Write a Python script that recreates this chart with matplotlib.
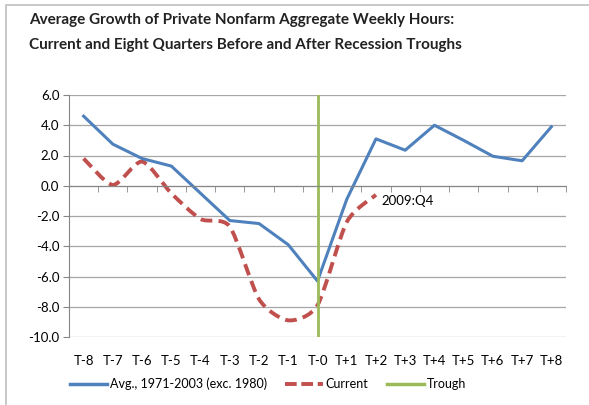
import matplotlib
matplotlib.use('Agg')
import matplotlib.pyplot as plt
from matplotlib.path import Path
from matplotlib.patches import PathPatch, Rectangle
from matplotlib.lines import Line2D
import numpy as np

quarters = ['T-8', 'T-7', 'T-6', 'T-5', 'T-4', 'T-3', 'T-2', 'T-1', 'T-0',
            'T+1', 'T+2', 'T+3', 'T+4', 'T+5', 'T+6', 'T+7', 'T+8']
avg_hours = [4.6, 2.75, 1.8, 1.3, -0.5, -2.3, -2.5, -3.9, -6.3,
             -0.9, 3.1, 2.35, 4.0, 3.0, 1.95, 1.65, 3.9]
current_hours = [1.8, 0.05, 1.6, -0.5, -2.2, -2.7, -7.5, -8.9, -7.9, -2.4, -0.6]
trough_label = 'T-0'
last_label = '2009:Q4'

BLUE = '#4F81BD'
RED = '#C0504D'
GREEN = '#9BBB59'
GRID = '#A6A6A6'

plt.rcParams['font.family'] = ['Lato', 'DejaVu Sans']


def smooth_path(xs, ys, t=0.12):
    # smoothed line: cubic Bezier through the points
    pts = np.column_stack([xs, ys]).astype(float)
    verts = [pts[0]]
    codes = [Path.MOVETO]
    n = len(pts)
    for i in range(n - 1):
        p0 = pts[i - 1] if i > 0 else pts[i]
        p1, p2 = pts[i], pts[i + 1]
        p3 = pts[i + 2] if i + 2 < n else pts[i + 1]
        verts += [p1 + (p2 - p0) * t, p2 - (p3 - p1) * t, p2]
        codes += [Path.CURVE4] * 3
    return Path(verts, codes)


fig = plt.figure(figsize=(5.89, 4.05), dpi=100)
fig.patches.append(Rectangle((6 / 589, -0.1), 1.2, 1.1 - 5 / 405,
                             transform=fig.transFigure, fill=False,
                             edgecolor='#BFBFBF', linewidth=1.2))

ax = fig.add_axes([69 / 589, 1 - 337 / 405, 497 / 589, 242 / 405])
x = np.arange(len(quarters))

ax.set_xlim(-0.5, len(quarters) - 0.5)
ax.set_ylim(-10, 6)
ax.set_yticks(np.arange(-10, 6.1, 2))
ax.set_yticklabels([f'{v:.1f}' for v in np.arange(-10, 6.1, 2)], fontsize=9.5)
ax.grid(axis='y', color=GRID, linewidth=0.9)
ax.set_axisbelow(True)

for s in ['top', 'right']:
    ax.spines[s].set_visible(False)
ax.spines['left'].set_color('#868686')
ax.spines['bottom'].set_position(('data', 0))
ax.spines['bottom'].set_color('#868686')
ax.tick_params(axis='y', length=4, color='#868686', pad=3)

# category ticks on the zero line, labels at the bottom
ax.set_xticks(x)
ax.set_xticks(np.arange(-0.5, len(quarters), 1), minor=True)
ax.tick_params(axis='x', which='major', length=0, labelbottom=False)
ax.tick_params(axis='x', which='minor', length=4, color='#868686')
sec = ax.secondary_xaxis('bottom')
sec.set_xticks(x)
sec.set_xticklabels(quarters, fontsize=9.5)
sec.tick_params(length=0, pad=13)
sec.spines['bottom'].set_visible(False)

ax.plot(x, avg_hours, color=BLUE, linewidth=2.2, solid_joinstyle='round')

xc = x[:len(current_hours)]
ax.add_patch(PathPatch(smooth_path(xc, current_hours), fill=False,
                       edgecolor=RED, linewidth=2.8, linestyle=(0, (3, 1.6))))

t0 = quarters.index(trough_label)
ax.axvline(t0, color=GREEN, linewidth=2)

ax.text(xc[-1] + 0.2, -1.0, last_label, fontsize=9.5, va='center', ha='left')

title_lines = ['Average Growth of Private Nonfarm Aggregate Weekly Hours:',
               'Current and Eight Quarters Before and After Recession Troughs']
for ypix, line in zip([20, 45], title_lines):
    fig.text(29 / 589, 1 - ypix / 405, line, fontsize=11, fontweight='bold',
             va='center', ha='left', color='#222222')

handles = [Line2D([], [], color=BLUE, linewidth=2.5),
           Line2D([], [], color=RED, linewidth=2.8, linestyle=(0, (3, 1.2))),
           Line2D([], [], color=GREEN, linewidth=2.5)]
fig.legend(handles, ['Avg., 1971-2003 (exc. 1980)', 'Current', 'Trough'],
           loc='center', bbox_to_anchor=(0.455, 1 - 384 / 405), ncol=3,
           frameon=False, fontsize=9, handlelength=3.0, handletextpad=0.2,
           columnspacing=1.5)

fig.savefig('out.png', dpi=100)
